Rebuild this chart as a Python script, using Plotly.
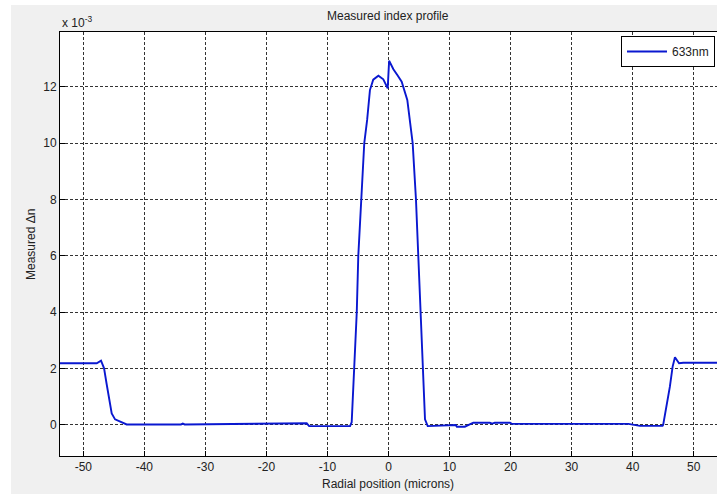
import plotly.graph_objects as go

# Data (Δn in units of 1e-3)
radial_pos = [-54, -47.8, -47.1, -46.6, -46.2, -45.7, -45.35, -44.8, -44.0, -42.9,
              -34.0, -33.7, -33.4, -27.6, -27.0, -22.2, -21.8, -13.4, -13.0,
              -6.3, -6.03, -5.6, -5.2, -4.95, -4.5, -3.97, -3.5, -3.04, -2.5, -1.66,
              -0.85, -0.13, 0.1, 0.5, 0.8, 1.5, 2.16, 3.08, 3.5, 3.96, 4.5, 4.88,
              5.16, 5.54, 5.98, 6.42, 8.4, 11.0, 11.2, 12.5, 13.9, 16.6, 17.0, 17.4,
              19.9, 20.2, 39.3, 41.2, 44.9, 45.0, 46.1, 46.55, 46.93, 47.6, 48.3, 54]
delta_n = [2.19, 2.19, 2.28, 2.01, 1.48, 0.89, 0.41, 0.2, 0.12, 0.02,
           0.02, 0.05, 0.02, 0.03, 0.04, 0.05, 0.06, 0.06, -0.04,
           -0.04, 0.1, 2.0, 4.0, 6.0, 8.0, 10.0, 10.82, 11.88, 12.25, 12.39,
           12.26, 11.94, 12.92, 12.72, 12.62, 12.4, 12.18, 11.53, 10.8, 10.0, 8.0, 6.0,
           4.0, 2.0, 0.2, -0.04, -0.02, 0.0, -0.06, -0.06, 0.08, 0.08, 0.05, 0.08,
           0.08, 0.04, 0.04, -0.03, -0.03, 0.0, 1.36, 2.07, 2.4, 2.19, 2.21, 2.21]

x_ticks = [-50, -40, -30, -20, -10, 0, 10, 20, 30, 40, 50]
x_tick_labels = ["-50", "-40", "-30", "-20", "-10", "0", "10", "20", "30", "40", "50"]
y_ticks = [0, 2, 4, 6, 8, 10, 12]
y_tick_labels = ["0", "2", "4", "6", "8", "10", "12"]

W, H = 717, 494
L, R, T, B = 60, 0, 32, 38
pw, ph = W - L - R, H - T - B

def px_to_paper_x(px):
    return (px - L) / pw

def py_to_paper_y(py):
    return (H - B - py) / ph

fig = go.Figure()
fig.add_trace(go.Scatter(x=radial_pos, y=delta_n, mode="lines", name="633nm",
                         line=dict(color="#0a18d0", width=1.9)))

txt = dict(family="Liberation Sans, Arial, sans-serif", size=12, color="#222222")

fig.update_layout(
    width=W, height=H,
    margin=dict(l=L, r=R, t=T, b=B, autoexpand=False),
    paper_bgcolor="#f0f0f0",
    plot_bgcolor="white",
    font=txt,
    showlegend=True,
    legend=dict(x=px_to_paper_x(715), y=py_to_paper_y(36), xanchor="right", yanchor="top",
                bgcolor="white", bordercolor="black", borderwidth=1,
                font=txt, itemwidth=40, tracegroupgap=0),
    xaxis=dict(range=[-53.82, 53.82], tickvals=x_ticks, ticktext=x_tick_labels,
               ticks="inside", ticklen=5,
               tickcolor="black", showline=True, linecolor="black", linewidth=1, mirror=True,
               showgrid=True, gridcolor="#333333", griddash="3px,2px", gridwidth=1,
               zeroline=False, automargin=False, tickfont=txt),
    yaxis=dict(range=[-1.10, 13.94], tickvals=y_ticks, ticktext=y_tick_labels,
               ticks="inside", ticklen=5,
               tickcolor="black", showline=True, linecolor="black", linewidth=1, mirror=False,
               showgrid=True, gridcolor="#333333", griddash="3px,2px", gridwidth=1,
               zeroline=False, automargin=False, tickfont=txt),
    shapes=[
        dict(type="rect", xref="paper", yref="paper",
             x0=px_to_paper_x(0), x1=px_to_paper_x(11), y0=py_to_paper_y(494), y1=py_to_paper_y(0),
             fillcolor="white", line=dict(width=0), layer="below"),
        dict(type="rect", xref="paper", yref="paper",
             x0=px_to_paper_x(0), x1=px_to_paper_x(717), y0=py_to_paper_y(5), y1=py_to_paper_y(0),
             fillcolor="white", line=dict(width=0), layer="below"),
    ],
    annotations=[
        dict(text="Measured index profile", xref="paper", yref="paper",
             x=px_to_paper_x(388), y=py_to_paper_y(16), xanchor="center", yanchor="middle",
             showarrow=False, font=txt),
        dict(text="x 10<sup>-3</sup>", xref="paper", yref="paper",
             x=px_to_paper_x(60), y=py_to_paper_y(22), xanchor="left", yanchor="middle",
             showarrow=False, font=txt),
        dict(text="Radial position (microns)", xref="paper", yref="paper",
             x=px_to_paper_x(388), y=py_to_paper_y(484), xanchor="center", yanchor="middle",
             showarrow=False, font=txt),
        dict(text="Measured Δn", xref="paper", yref="paper", textangle=-90,
             x=px_to_paper_x(31), y=py_to_paper_y(245), xanchor="center", yanchor="middle",
             showarrow=False, font=txt),
    ],
)

fig.write_html("out.html",
               config={"displayModeBar": False},
               post_script="document.body.style.margin='0';document.body.style.padding='0';"
                           "document.documentElement.style.overflow='hidden';")
